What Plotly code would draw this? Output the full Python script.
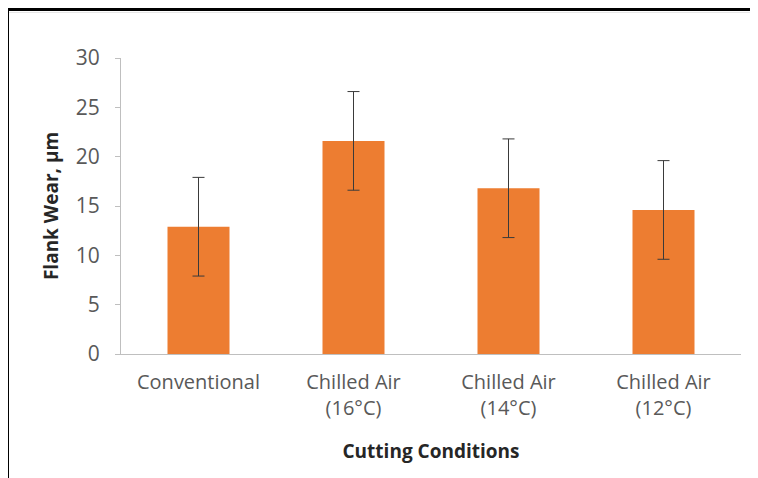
import plotly.graph_objects as go

categories = ["Conventional", "Chilled Air<br>(16°C)", "Chilled Air<br>(14°C)", "Chilled Air<br>(12°C)"]
flank_wear = [12.9, 21.6, 16.8, 14.6]
error = [5.0, 5.0, 5.0, 5.0]
y_ticks = [0, 5, 10, 15, 20, 25, 30]

W, H = 758, 478
OFF = 8  # page body margin offset
# desired plot area in viewport pixels
X0, X1, Y0, Y1 = 121, 741, 58, 354
L, T = X0 - OFF, Y0 - OFF
R, B = W + OFF - X1, H + OFF - Y1
pw, ph = X1 - X0, Y1 - Y0

def px(x):
    return (x - X0) / pw

def py(y):
    return (Y1 - y) / ph

font = "'Open Sans', Lato, sans-serif"
grey = "#595959"

fig = go.Figure(go.Bar(
    x=categories, y=flank_wear,
    marker=dict(color="#ED7D31", line=dict(width=0)),
    error_y=dict(type="data", array=error, visible=True, color="#3a3a3a", thickness=1, width=6),
))

fig.update_layout(
    width=W, height=H,
    margin=dict(l=L, r=R, t=T, b=B),
    paper_bgcolor="white", plot_bgcolor="white",
    bargap=0.6, showlegend=False,
    font=dict(family=font, color=grey),
    xaxis=dict(
        showline=True, linecolor="#bfbfbf", linewidth=1,
        ticks="", tickfont=dict(size=20, color=grey, family=font), ticklabelstandoff=10,
        title=dict(text="<b>Cutting Conditions</b>", font=dict(size=19, color="#262626", family=font), standoff=24),
        showgrid=False, zeroline=False,
    ),
    yaxis=dict(
        range=[0, 30], tickvals=y_ticks, showline=True, linecolor="#bfbfbf", linewidth=1,
        ticks="outside", ticklen=5, tickcolor="#bfbfbf", ticklabelstandoff=11,
        tickfont=dict(size=21, color=grey, family=font),
        title=dict(text="<b>Flank Wear, µm</b>", font=dict(size=19, color="#262626", family=font), standoff=12),
        showgrid=False, zeroline=False,
    ),
    shapes=[
        dict(type="line", xref="paper", yref="paper", x0=px(6), x1=px(W + 20), y0=py(9.5), y1=py(9.5),
             line=dict(color="black", width=3)),
        dict(type="line", xref="paper", yref="paper", x0=px(7.5), x1=px(7.5), y0=py(H + 20), y1=py(8),
             line=dict(color="black", width=3)),
        dict(type="line", xref="paper", yref="paper", x0=px(9), x1=px(W + 20), y0=py(12.5), y1=py(12.5),
             line=dict(color="#e6e6e6", width=1)),
    ],
)

fig.write_html("out.html")
